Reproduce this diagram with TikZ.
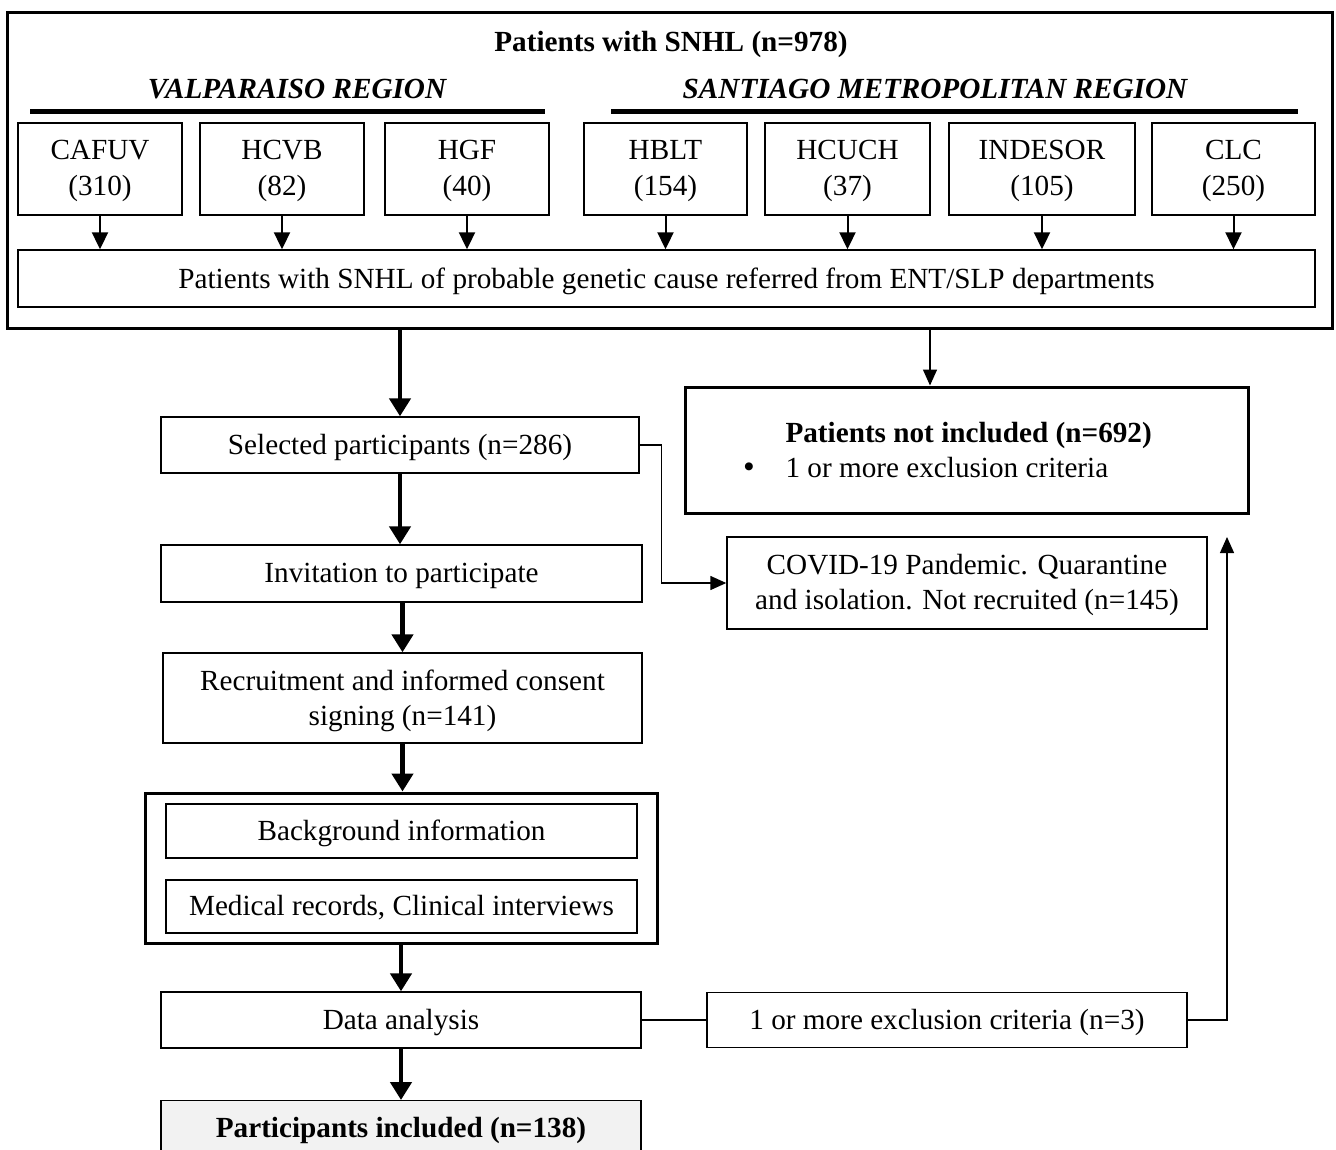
\documentclass[tikz,border=0pt]{standalone}
\usepackage{fontspec}
\setmainfont{Liberation Serif}
\usetikzlibrary{arrows.meta,calc}
\begin{document}
\begin{tikzpicture}[x=1pt,y=-1pt,
  font=\fontsize{29.2}{35}\selectfont,
  every node/.append style={text depth=1.5pt},
  box/.style={draw, line width=1.4pt, inner sep=0pt, align=center, text=black},
  thickbox/.style={draw, line width=3pt, inner sep=0pt, align=center},
  bigarrow/.style={line width=4.5pt, -{Triangle[width=21pt,length=18pt]}},
  smallarrow/.style={line width=2pt, -{Triangle[width=16pt,length=17pt]}},
  thinarrow/.style={line width=1.4pt, -{Triangle[width=14pt,length=16pt]}},
  thinline/.style={line width=1.4pt},
  regionline/.style={line width=5pt}
]
\useasboundingbox[fill=white] (0,0) rectangle (1336,1149);
\begin{scope}
\clip (0,0) rectangle (1336,1149);
% outer box
\node[thickbox, minimum width=1325pt, minimum height=316pt] (outer) at (669.5,170) {};
\node (title) at (671,42) {\bfseries Patients with SNHL (n=978)};
\node (valp) at (297,90) {\bfseries\itshape VALPARAISO REGION};
\node (sant) at (935,90) {\bfseries\itshape SANTIAGO METROPOLITAN REGION};
\draw[regionline] (30,111) -- (545,111);
\draw[regionline] (611,111) -- (1298,111);
% hospital boxes
\node[box, minimum width=164pt, minimum height=92pt] (cafuv) at (100,169) {CAFUV\\[1pt](310)};
\node[box, minimum width=164pt, minimum height=92pt] (hcvb) at (282,169) {HCVB\\[1pt](82)};
\node[box, minimum width=164pt, minimum height=92pt] (hgf) at (467,169) {HGF\\[1pt](40)};
\node[box, minimum width=163pt, minimum height=92pt] (hblt) at (665.5,169) {HBLT\\[1pt](154)};
\node[box, minimum width=165pt, minimum height=92pt] (hcuch) at (847.5,169) {HCUCH\\[1pt](37)};
\node[box, minimum width=186pt, minimum height=92pt] (indesor) at (1042,169) {INDESOR\\[1pt](105)};
\node[box, minimum width=163pt, minimum height=92pt] (clc) at (1233.5,169) {CLC\\[1pt](250)};
\node[box, minimum width=1297pt, minimum height=57pt] (wide) at (666.5,278.5) {Patients with SNHL of probable genetic cause referred from ENT/SLP departments};
\foreach \n in {cafuv,hcvb,hgf,hblt,hcuch,indesor,clc}{
  \draw[smallarrow] (\n.south) -- (\n.south |- wide.north);
}
% left column
\node[box, minimum width=478pt, minimum height=56pt] (sel) at (400,445) {Selected participants (n=286)};
\node[box, minimum width=481pt, minimum height=57pt] (inv) at (401.5,573.5) {Invitation to participate};
\node[box, minimum width=479pt, minimum height=90pt] (rec) at (402.5,698) {Recruitment and informed consent\\signing (n=141)};
\node[thickbox, minimum width=512pt, minimum height=150pt] (grp) at (401,868) {};
\node[box, minimum width=471pt, minimum height=54pt] (bg) at (401.5,831) {Background information};
\node[box, minimum width=471pt, minimum height=53pt] (med) at (401.5,906.5) {Medical records, Clinical interviews};
\node[box, minimum width=480pt, minimum height=56pt] (data) at (401,1020) {Data analysis};
\node[box, fill=black!5, minimum width=480pt, minimum height=60pt, anchor=north] (incl) at (401,1100) {};
\node (incltext) at (401,1128) {\bfseries Participants included (n=138)};
% right column
\node[thickbox, minimum width=563pt, minimum height=126pt] (notincl) at (966.5,450) {};
\node[anchor=west] (nititle) at (782,433) {\bfseries Patients not included (n=692)};
\node[anchor=west] (nitext) at (782,468) {1 or more exclusion criteria};
\node (bullet) at (749,470) {\bfseries •};
\node[box, minimum width=480pt, minimum height=92pt] (covid) at (967,583) {COVID-19 Pandemic. Quarantine\\and isolation. Not recruited (n=145)};
\node[box, minimum width=480pt, minimum height=55pt] (excl) at (947,1020) {1 or more exclusion criteria (n=3)};
% connectors
\coordinate (split) at (930,328);
\coordinate (up) at (1227,537);
\draw[bigarrow] (outer.south -| sel.north) -- (sel.north);
\draw[thinarrow] (split) -- (split |- notincl.north);
\draw[bigarrow] (sel.south) -- (sel.south |- inv.north);
\draw[bigarrow] (inv.south -| rec.north) -- (rec.north);
\draw[bigarrow] (rec.south) -- (rec.south |- grp.north);
\draw[bigarrow] (grp.south) -- (grp.south |- data.north);
\draw[bigarrow] (data.south) -- (data.south |- incl.north);
\draw[thinarrow] (sel.east) -- ++(22,0) |- (covid.west);
\draw[thinline] (data.east) -- (data.east -| excl.west);
\draw[thinarrow] (excl.east) -| (up);
\end{scope}
\end{tikzpicture}
\end{document}
